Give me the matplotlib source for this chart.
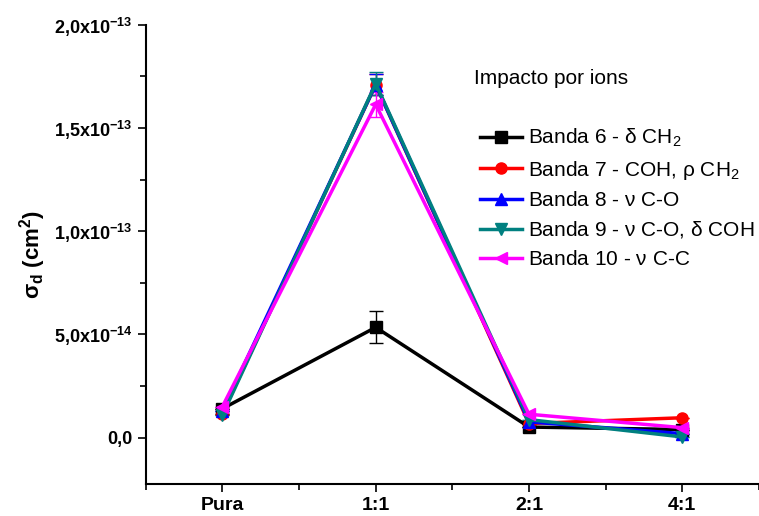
import numpy as np
import matplotlib.pyplot as plt
from matplotlib.lines import Line2D
from matplotlib.ticker import MultipleLocator

plt.rcParams.update({
    "font.family": ["Liberation Sans", "DejaVu Sans"],
    "mathtext.fontset": "custom",
    "mathtext.rm": "Liberation Sans",
    "mathtext.it": "Liberation Sans",
    "mathtext.bf": "Liberation Sans:bold",
})

categories = ["Pura", "1:1", "2:1", "4:1"]

banda6 = [1.40e-14, 5.34e-14, 5.1e-15, 3.9e-15]
banda6_err = [0, 7.8e-15, 0, 0]
banda7 = [1.16e-14, 1.71e-13, 6.8e-15, 9.6e-15]
banda7_err = [0, 5.0e-15, 0, 0]
banda8 = [1.30e-14, 1.71e-13, 7.6e-15, 1.9e-15]
banda8_err = [0, 5.0e-15, 0, 0]
banda9 = [1.08e-14, 1.715e-13, 8.7e-15, 3e-16]
banda9_err = [0, 5.6e-15, 0, 0]
banda10 = [1.50e-14, 1.614e-13, 1.13e-14, 4.8e-15]
banda10_err = [0, 6.0e-15, 0, 0]

series = [
    (banda6, banda6_err, "#000000", "s", r"Banda 6 - $\delta$ CH$_2$"),
    (banda7, banda7_err, "#ff0000", "o", r"Banda 7 - COH, $\rho$ CH$_2$"),
    (banda8, banda8_err, "#0000ff", "^", r"Banda 8 - $\nu$ C-O"),
    (banda9, banda9_err, "#008080", "v", r"Banda 9 - $\nu$ C-O, $\delta$ COH"),
    (banda10, banda10_err, "#ff00ff", "<", r"Banda 10 - $\nu$ C-C"),
]

fig = plt.figure(figsize=(7.59, 5.16), dpi=100)
ax = fig.add_axes([0.192, 0.062, 0.808, 0.89])

x = np.arange(len(categories))
handles = []
for vals, err, col, mk, lab in series:
    ax.errorbar(x, vals, yerr=err, color=col, ecolor=col, elinewidth=1,
                capsize=5, capthick=1, lw=2.5, marker=mk, markersize=8)
    handles.append(Line2D([], [], color=col, lw=2.5, marker=mk, markersize=8, label=lab))

ax.set_xlim(-0.5, 3.5)
ax.set_ylim(-2.25e-14, 2.0e-13)
ax.set_xticks(x)
ax.set_xticklabels(categories, fontweight="bold", fontsize=14)
ax.xaxis.set_minor_locator(MultipleLocator(0.5))
yt = [0, 0.5e-13, 1.0e-13, 1.5e-13, 2.0e-13]
ax.set_yticks(yt)
ax.set_yticklabels(["0,0", r"5,0x10$^{\mathbf{-14}}$", r"1,0x10$^{\mathbf{-13}}$",
                    r"1,5x10$^{\mathbf{-13}}$", r"2,0x10$^{\mathbf{-13}}$"],
                   fontsize=13, fontweight="bold")
ax.yaxis.set_minor_locator(MultipleLocator(0.25e-13))
ax.tick_params(which="major", direction="out", length=6, width=1.2)
ax.tick_params(which="minor", direction="out", length=4, width=1.2)
for s in ["top", "right"]:
    ax.spines[s].set_visible(False)
for s in ["left", "bottom"]:
    ax.spines[s].set_linewidth(1.5)
ax.set_ylabel(r"$\mathbf{\sigma_d}$ (cm$^{\mathbf{2}}$)", fontsize=16,
              fontweight="bold", labelpad=4)

fig.text(0.625, 0.848, "Impacto por ions", fontsize=15, va="center", ha="left")
ax.legend(handles=handles, loc="upper left", bbox_to_anchor=(0.622, 0.77),
          bbox_transform=fig.transFigure, frameon=False, fontsize=15,
          handlelength=2.0, handletextpad=0.3, labelspacing=0.45, borderaxespad=0)

fig.savefig("out.png", dpi=100)
